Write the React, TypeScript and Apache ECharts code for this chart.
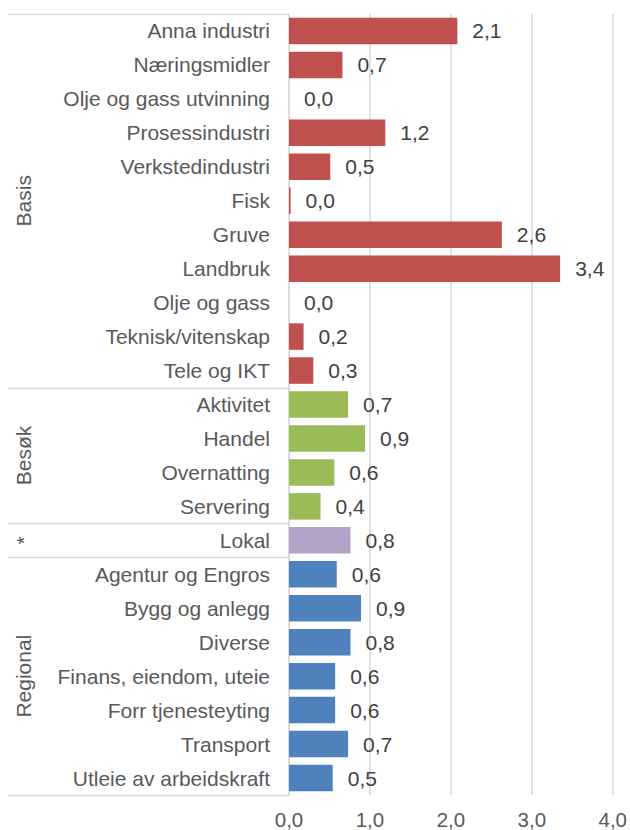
import React, { useEffect, useRef } from "react";
import * as echarts from "echarts";

const categories = [
  "Anna industri", "Næringsmidler", "Olje og gass utvinning", "Prosessindustri",
  "Verkstedindustri", "Fisk", "Gruve", "Landbruk", "Olje og gass",
  "Teknisk/vitenskap", "Tele og IKT",
  "Aktivitet", "Handel", "Overnatting", "Servering",
  "Lokal",
  "Agentur og Engros", "Bygg og anlegg", "Diverse", "Finans, eiendom, uteie",
  "Forr tjenesteyting", "Transport", "Utleie av arbeidskraft",
];
const values = [
  2.08, 0.66, 0.0, 1.19, 0.51, 0.02, 2.63, 3.35, 0.0, 0.18, 0.3,
  0.73, 0.94, 0.56, 0.39,
  0.76,
  0.59, 0.89, 0.76, 0.57, 0.57, 0.73, 0.54,
];
const groupNames = ["Basis", "Besøk", "*", "Regional"];
const groupSizes = [11, 4, 1, 7];
const groupColors = ["#C0504D", "#9BBB59", "#B3A2C7", "#4F81BD"];
const xTicks = [0, 1, 2, 3, 4];

const FONT = "Liberation Sans, Arial, sans-serif";
const fmt = (v: number) => v.toFixed(1).replace(".", ",");

export default function App() {
  const ref = useRef<HTMLDivElement>(null);
  useEffect(() => {
    if (!ref.current) return;
    const chart = echarts.init(ref.current, undefined, { renderer: "svg" });
    const groupOf: number[] = [];
    groupSizes.forEach((n, g) => { for (let i = 0; i < n; i++) groupOf.push(g); });
    const data = values.map((v, i) => ({ value: v, itemStyle: { color: groupColors[groupOf[i]] } }));
    chart.setOption({
      animation: false,
      textStyle: { fontFamily: FONT },
      grid: { left: 289, right: 17, top: 14, bottom: 34, containLabel: false },
      xAxis: {
        type: "value",
        min: xTicks[0],
        max: xTicks[xTicks.length - 1],
        interval: 1,
        axisLine: { show: false },
        axisTick: { show: false },
        splitLine: { show: true, lineStyle: { color: "#d9d9d9", width: 1.5 } },
        axisLabel: { formatter: (v: number) => fmt(v), color: "#595959", fontSize: 20.5, fontFamily: FONT, margin: 14 },
      },
      yAxis: {
        type: "category",
        inverse: true,
        data: categories,
        axisLine: { show: true, lineStyle: { color: "#d9d9d9", width: 1.5 } },
        axisTick: { show: false },
        axisLabel: { color: "#595959", fontSize: 21, fontFamily: FONT, margin: 19 },
      },
      series: [{
        type: "bar",
        data,
        barCategoryGap: "22%",
        label: {
          show: true,
          position: "right",
          distance: 15,
          color: "#404040",
          fontSize: 21,
          fontFamily: FONT,
          formatter: (p: any) => fmt(p.value),
        },
      }],
    });
    const y0 = chart.convertToPixel({ yAxisIndex: 0 }, 0) as number;
    const y1 = chart.convertToPixel({ yAxisIndex: 0 }, 1) as number;
    const step = y1 - y0;
    const axisX = chart.convertToPixel({ xAxisIndex: 0 }, 0) as number;
    const boundary = (k: number) => y0 + (k - 0.5) * step;
    const graphic: any[] = [];
    let start = 0;
    const bounds = [0];
    groupSizes.forEach((n, g) => {
      const end = start + n;
      bounds.push(end);
      const mid = (boundary(start) + boundary(end)) / 2;
      graphic.push({
        type: "text",
        x: 23,
        y: mid,
        rotation: Math.PI / 2,
        style: {
          text: groupNames[g],
          fill: "#595959",
          font: `21px ${FONT}`,
          align: "center",
          verticalAlign: "middle",
        },
      });
      start = end;
    });
    bounds.forEach((k) => {
      const y = Math.round(boundary(k)) + 0.5;
      graphic.push({
        type: "line",
        shape: { x1: 8, y1: y, x2: axisX, y2: y },
        style: { stroke: "#d9d9d9", lineWidth: 1.5 },
      });
    });
    chart.setOption({ graphic });
    return () => chart.dispose();
  }, []);
  return (
    <div
      ref={ref}
      style={{ position: "absolute", left: 0, top: 0, width: 630, height: 830, background: "#fff" }}
    />
  );
}
